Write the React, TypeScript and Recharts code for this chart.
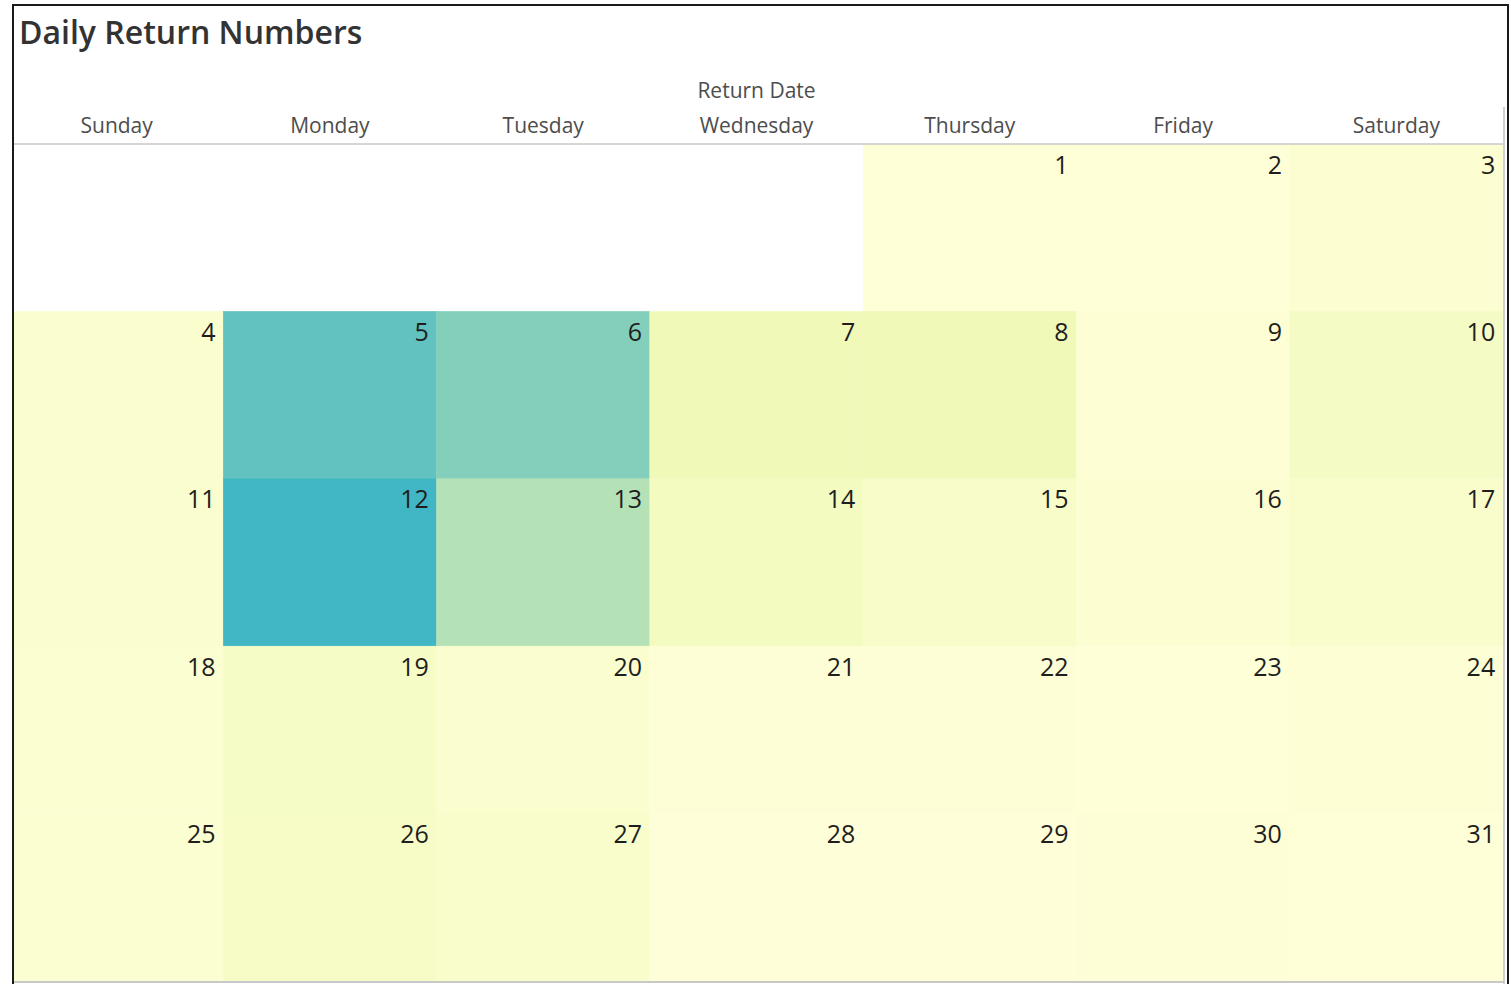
import { Bar, BarChart, Label, XAxis, YAxis } from "recharts";

const WEEKDAYS = ["Sunday", "Monday", "Tuesday", "Wednesday", "Thursday", "Friday", "Saturday"];
const FIRST_WEEKDAY = 4; // the 1st falls on a Thursday
const WEEKS = 5;
// returns per day of month, 1..31
const RETURNS = [2, 2, 5, 8, 104, 88, 24, 25, 4, 16, 9, 120, 68, 18, 13, 5, 10, 6, 15, 9, 3, 3, 2, 4, 6, 14, 10, 1, 1, 3, 2];
const COLOR_STOPS = ["#ffffd9", "#edf8b1", "#c7e9b4", "#7fcdbb", "#41b6c4"];

const maxReturn = Math.max(...RETURNS);

const tableRows = WEEKDAYS.map((name) => {
  const row: Record<string, string | number> = { name };
  for (let k = 0; k < WEEKS; k++) row[`w${k}`] = 1;
  return row;
});

function dayAt(weekday: number, week: number) {
  const d = week * 7 + weekday - FIRST_WEEKDAY + 1;
  return d >= 1 && d <= RETURNS.length ? d : null;
}

function hexToRgb(hex: string) {
  const n = parseInt(hex.slice(1), 16);
  return [(n >> 16) & 255, (n >> 8) & 255, n & 255];
}

function scaleColor(value: number) {
  const t = Math.min(1, Math.max(0, value / maxReturn)) * (COLOR_STOPS.length - 1);
  const i = Math.min(Math.floor(t), COLOR_STOPS.length - 2);
  const f = t - i;
  const a = hexToRgb(COLOR_STOPS[i]);
  const b = hexToRgb(COLOR_STOPS[i + 1]);
  const c = a.map((v, j) => Math.round(v + (b[j] - v) * f));
  return `rgb(${c[0]},${c[1]},${c[2]})`;
}

function makeCell(week: number) {
  return (props: any) => {
    const { x, width, index } = props;
    let { y, height } = props;
    // reversed axis gives a negative height
    if (height < 0) {
      y += height;
      height = -height;
    }
    const day = dayAt(index, week);
    const fill = day ? scaleColor(RETURNS[day - 1]) : "#ffffff";
    return (
      <g>
        <rect x={x} y={y} width={width} height={height} fill={fill} stroke={fill} strokeWidth={0.6} />
        {day && (
          <text
            x={x + width - 7.5}
            y={y + 29.5}
            textAnchor="end"
            fontSize={25}
            fontFamily="Open Sans"
            fill="#1e1e1e"
          >
            {day}
          </text>
        )}
      </g>
    );
  };
}

export default function App() {
  return (
    <div
      style={{
        position: "absolute",
        left: 12,
        top: 4,
        width: 1497,
        height: 1000,
        border: "2px solid #1a1a1a",
        boxSizing: "border-box",
        overflow: "hidden",
        background: "#fff",
      }}
    >
      <div
        style={{
          position: "absolute",
          left: 5,
          top: 4,
          fontFamily: "Open Sans",
          fontWeight: 600,
          fontSize: 32,
          color: "#333",
          whiteSpace: "nowrap",
        }}
      >
        Daily Return Numbers
      </div>
      <div style={{ position: "absolute", left: -4, top: -6 }}>
        <BarChart
          width={1493}
          height={990}
          data={tableRows}
          margin={{ top: 104, right: 0, left: 0, bottom: 9 }}
          barCategoryGap={0}
          barGap={0}
        >
          <XAxis
            dataKey="name"
            orientation="top"
            height={40}
            tickLine={false}
            tickSize={0}
            tickMargin={11}
            axisLine={{ stroke: "#c8c8c8", strokeWidth: 1.5 }}
            tick={{ fontSize: 21, fill: "#4d4d4d", fontFamily: "Open Sans" }}
            interval={0}
          >
            <Label value="Return Date" position="top" offset={6} fontSize={21} fill="#4d4d4d" fontFamily="Open Sans" />
          </XAxis>
          <YAxis hide type="number" domain={[0, WEEKS]} reversed allowDataOverflow />
          {Array.from({ length: WEEKS }, (_, k) => (
            <Bar key={k} dataKey={`w${k}`} stackId="cal" isAnimationActive={false} shape={makeCell(k)} />
          ))}
        </BarChart>
      </div>
      <div style={{ position: "absolute", left: 1489, top: 101, width: 1.5, height: 880, background: "#d0d0d0" }} />
      <div style={{ position: "absolute", left: 0, top: 975, width: 1491, height: 1.5, background: "#c8c8c8" }} />
    </div>
  );
}
